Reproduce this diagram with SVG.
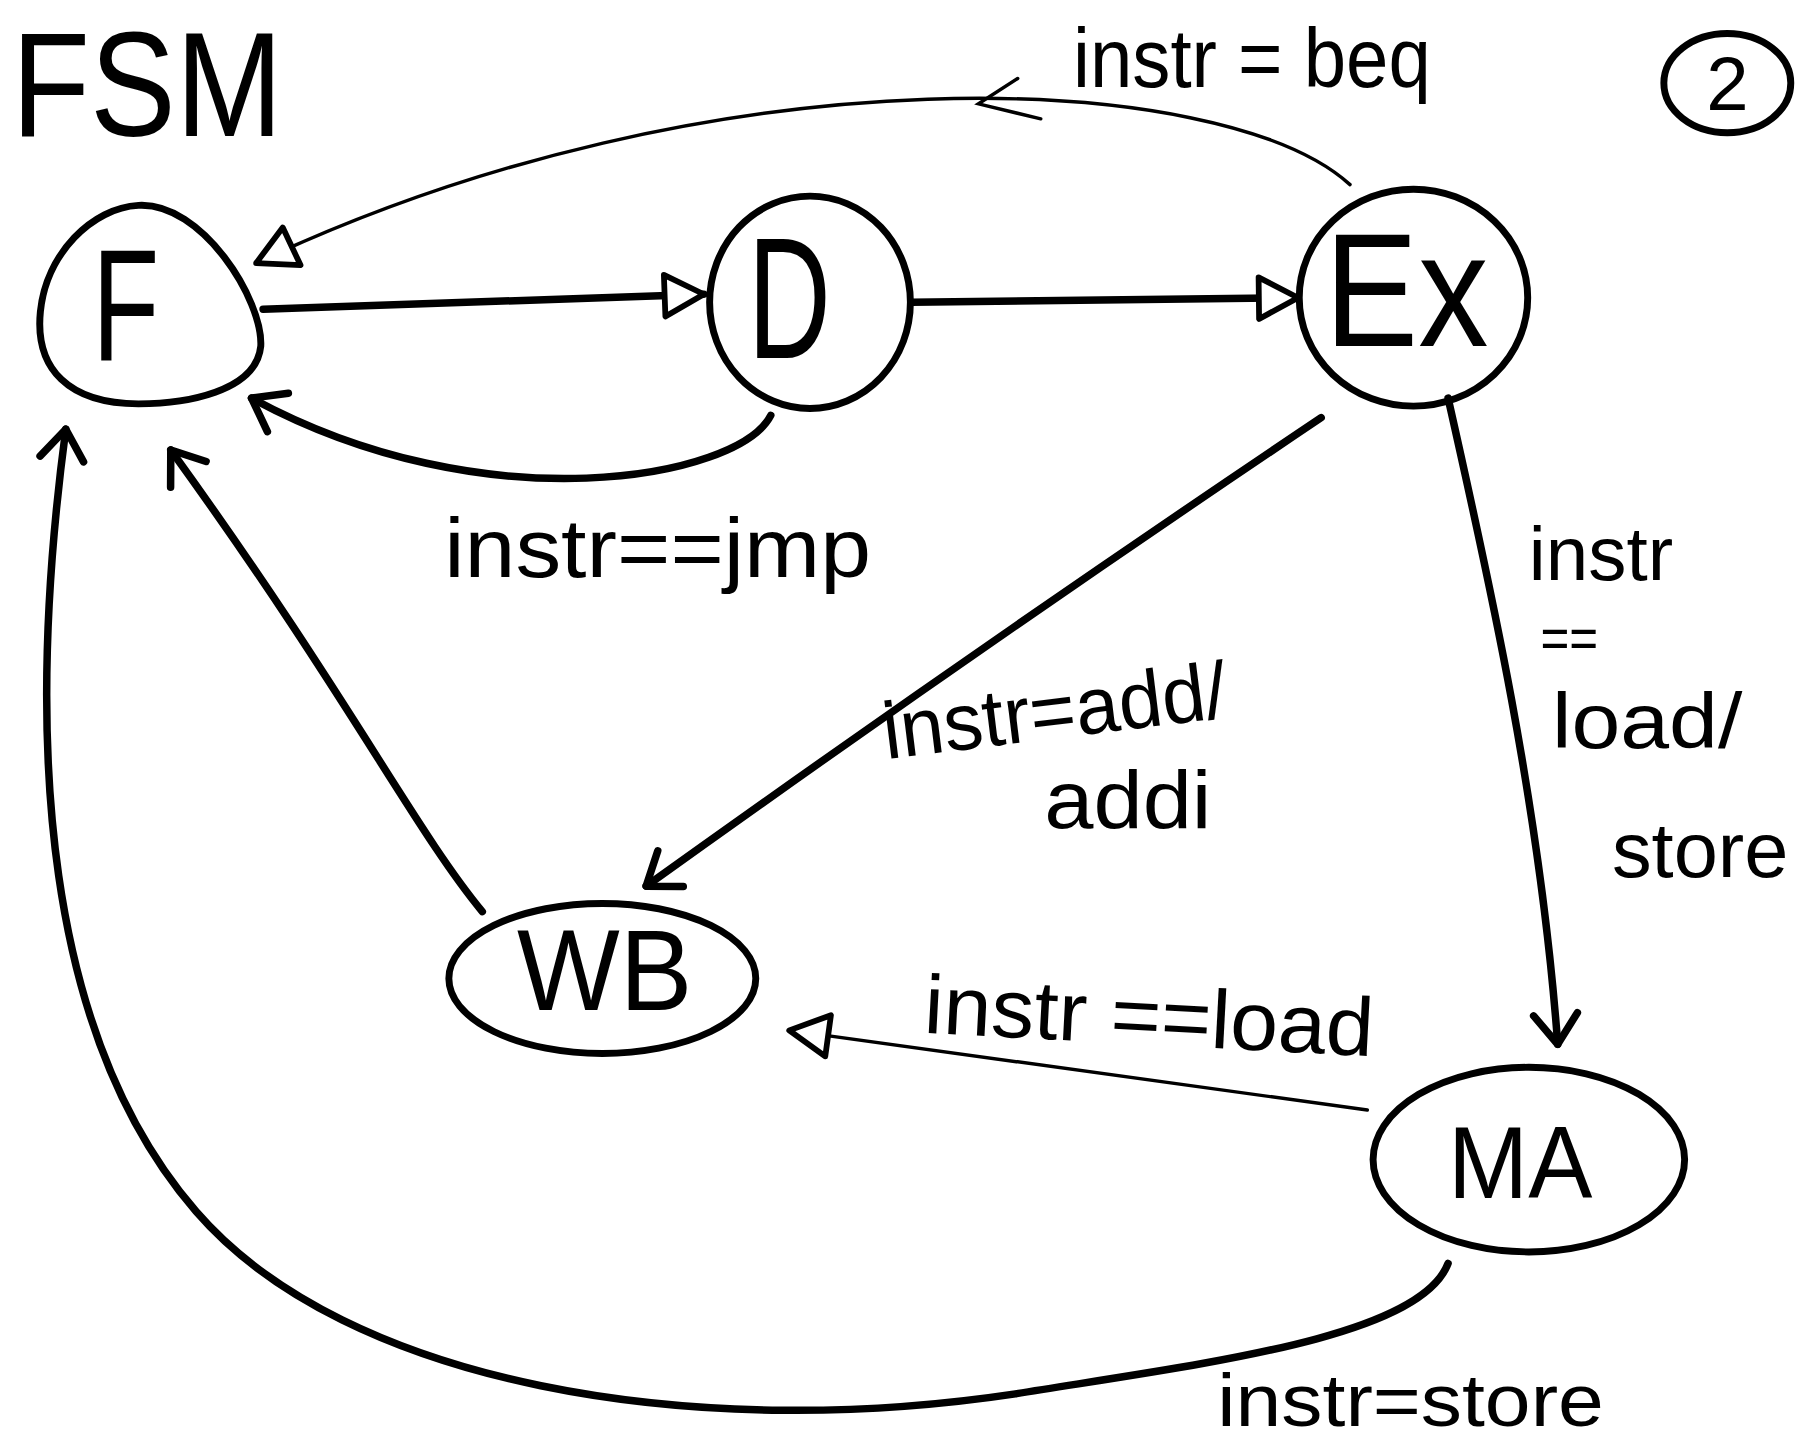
<svg xmlns="http://www.w3.org/2000/svg" width="1800" height="1439" viewBox="0 0 1800 1439">
<style>
.node{fill:none;stroke:#000;stroke-width:6;stroke-linecap:round}
.lbl{font-family:"Liberation Sans","DejaVu Sans",sans-serif;fill:#000}
.nt{font-family:"Liberation Sans","DejaVu Sans",sans-serif;fill:#000}
.c{fill:none;stroke:#000;stroke-width:6.5;stroke-linecap:round}
.thin{fill:none;stroke:#000;stroke-width:3;stroke-linecap:round}
</style>
<defs>
<marker id="vee" viewBox="-40 -30 50 60" refX="0" refY="0" markerWidth="50" markerHeight="60" markerUnits="userSpaceOnUse" orient="auto" overflow="visible">
<path d="M -26 -19 L 0 0 L -26 19" fill="none" stroke="#000" stroke-width="6.5" stroke-linecap="round" stroke-linejoin="round"/>
</marker>
<marker id="tri" viewBox="-40 -30 50 60" refX="0" refY="0" markerWidth="50" markerHeight="60" markerUnits="userSpaceOnUse" orient="auto" overflow="visible">
<path d="M -34 -18 L 0 0 L -34 18 Z" fill="#fff" stroke="#000" stroke-width="5" stroke-linejoin="round"/>
</marker>
</defs>
<rect width="1800" height="1439" fill="#fff"/>
<g transform="scale(1.15385)">
<text class="lbl" x="10" y="118" font-size="128" textLength="235" lengthAdjust="spacingAndGlyphs">FSM</text>
<g id="page-number">
<ellipse cx="1497" cy="72" rx="55" ry="43" class="node" stroke-width="5"/>
<text class="lbl" x="1497" y="95" font-size="66" text-anchor="middle">2</text>
</g>
<g id="connectors">
<path id="e-f-d" class="c" d="M 228 268 Q 420 262 610 255" marker-end="url(#tri)"/>
<path id="e-d-ex" class="c" d="M 790 262 L 1125 258" marker-end="url(#tri)"/>
<path id="e-d-f" class="c" d="M 668 360 C 640 415, 420 455, 218 345" marker-end="url(#vee)"/>
<path id="e-ex-f" class="thin" d="M 1170 160 C 1060 60, 620 40, 222 228" marker-end="url(#tri)"/>
<path class="thin" d="M 882 68 L 848 90 L 902 103" stroke-width="3.5"/>
<path id="e-ex-wb" class="c" d="M 1145 362 Q 850 560 560 768" marker-end="url(#vee)"/>
<path id="e-ex-ma" class="c" d="M 1255 345 C 1290 500, 1335 700, 1350 905" marker-end="url(#vee)"/>
<path id="e-ma-wb" class="thin" d="M 1185 962 L 684 893" marker-end="url(#tri)"/>
<path id="e-wb-f" class="c" d="M 418 790 C 360 720, 300 600, 148 390" marker-end="url(#vee)"/>
<path id="e-ma-f" class="c" d="M 1255 1095 C 1230 1160, 1040 1182, 880 1208 C 600 1250, 300 1200, 170 1050 C 40 900, 20 650, 57 372" marker-end="url(#vee)"/>
<text class="lbl" x="930" y="75" font-size="72" textLength="310" lengthAdjust="spacingAndGlyphs">instr = beq</text>
<text class="lbl" x="385" y="500" font-size="72" textLength="370" lengthAdjust="spacingAndGlyphs">instr==jmp</text>
<text class="lbl" x="768" y="658" font-size="70" textLength="300" lengthAdjust="spacingAndGlyphs" transform="rotate(-7 768 658)">instr=add/</text>
<text class="lbl" x="905" y="718" font-size="70" textLength="145" lengthAdjust="spacingAndGlyphs">addi</text>
<text class="lbl" x="1325" y="503" font-size="66" textLength="125" lengthAdjust="spacingAndGlyphs">instr</text>
<text class="lbl" x="1335" y="570" font-size="50" textLength="50" lengthAdjust="spacingAndGlyphs">==</text>
<text class="lbl" x="1345" y="648" font-size="68" textLength="165" lengthAdjust="spacingAndGlyphs">load/</text>
<text class="lbl" x="1397" y="760" font-size="68" textLength="153" lengthAdjust="spacingAndGlyphs">store</text>
<text class="lbl" x="800" y="895" font-size="72" textLength="390" lengthAdjust="spacingAndGlyphs" transform="rotate(3 800 895)">instr ==load</text>
<text class="lbl" x="1055" y="1236" font-size="64" textLength="335" lengthAdjust="spacingAndGlyphs">instr=store</text>
</g>
<g id="node-F">
<path class="node" d="M 120 178 C 175 175, 228 260, 226 300 C 222 340, 160 350, 120 350 C 60 350, 30 320, 35 270 C 40 220, 80 180, 120 178 Z"/>
<text class="nt" x="80" y="313" font-size="138" textLength="58" lengthAdjust="spacingAndGlyphs">F</text>
</g>
<g id="node-D">
<ellipse class="node" cx="702" cy="262" rx="87" ry="92"/>
<text class="nt" x="648" y="310" font-size="150" textLength="72" lengthAdjust="spacingAndGlyphs">D</text>
</g>
<g id="node-Ex">
<ellipse class="node" cx="1225" cy="258" rx="99" ry="94"/>
<text class="nt" x="1148" y="300" font-size="140" textLength="142" lengthAdjust="spacingAndGlyphs">Ex</text>
</g>
<g id="node-WB">
<ellipse class="node" cx="522" cy="848" rx="133" ry="65"/>
<text class="nt" x="448" y="875" font-size="100" textLength="152" lengthAdjust="spacingAndGlyphs">WB</text>
</g>
<g id="node-MA">
<ellipse class="node" cx="1325" cy="1005" rx="135" ry="80"/>
<text class="nt" x="1255" y="1038" font-size="88" textLength="125" lengthAdjust="spacingAndGlyphs">MA</text>
</g>
</g>
</svg>
